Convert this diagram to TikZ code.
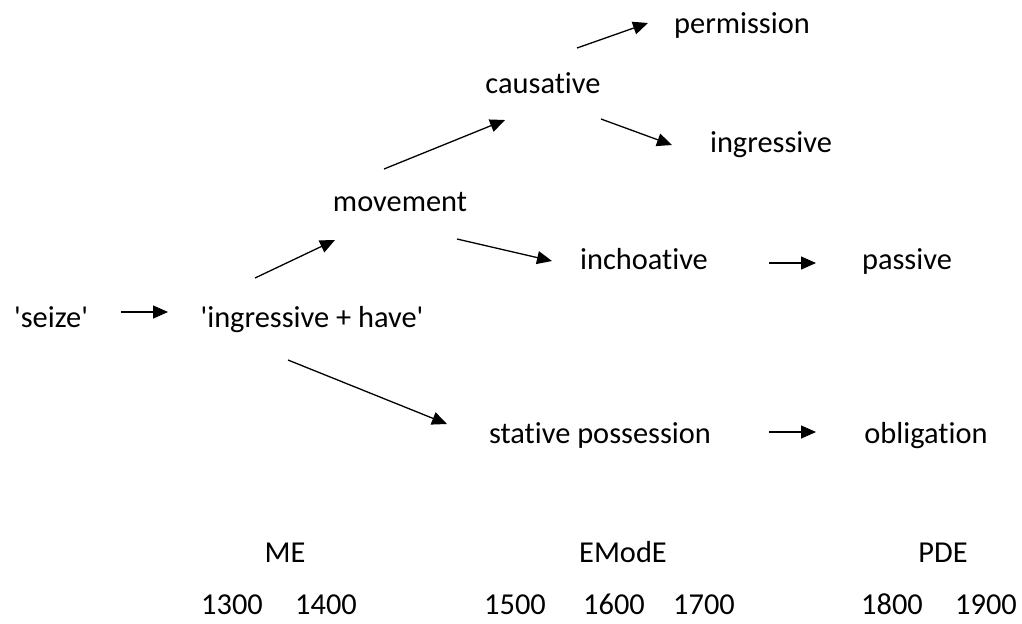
\documentclass[tikz,border=0pt]{standalone}
\usepackage{fontspec}
\setmainfont{Carlito}[Ligatures={TeXOff,CommonOff}]
\usepackage{tikz}
\usetikzlibrary{arrows.meta}
\tikzset{w/.style={font=\fontsize{15.2}{15.2}\selectfont, anchor=base, inner sep=0pt}}
\tikzset{ar/.style={line width=0.65pt, -{Triangle[length=7.5pt,width=6.5pt]}}}

\begin{document}
\begin{tikzpicture}[x=0.5pt,y=-0.5pt]
            \useasboundingbox (0,0) rectangle (1022,623);
            \node[w] (seize) at (51,327) {'seize'};
            \node[w] (inghave) at (312,327) {'ingressive + have'};
            \node[w] (move) at (400,211) {movement};
            \node[w] (caus) at (543,93) {causative};
            \node[w] (perm) at (742,33) {permission};
            \node[w] (ingr) at (771,152) {ingressive};
            \node[w] (inch) at (644,269) {inchoative};
            \node[w] (pass) at (907,269) {passive};
            \node[w] (stat) at (600,443) {stative possession};
            \node[w] (oblig) at (926,443) {obligation};
            \draw[ar] ([shift={(70,-15)}]seize.base) -- ([shift={(-144,-15)}]inghave.base);
            \draw[ar] ([shift={(-57,-49)}]inghave.base) -- ([shift={(-65,29)}]move.base);
            \draw[ar] ([shift={(-16,-42)}]move.base) -- ([shift={(-38,27)}]caus.base);
            \draw[ar] ([shift={(34,-45)}]caus.base) -- ([shift={(-94,-10)}]perm.base);
            \draw[ar] ([shift={(58,26)}]caus.base) -- ([shift={(-99,-7)}]ingr.base);
            \draw[ar] ([shift={(57,28)}]move.base) -- ([shift={(-92,-8)}]inch.base);
            \draw[ar] ([shift={(-24,33)}]inghave.base) -- ([shift={(-153,-19)}]stat.base);
            \draw[ar] ([shift={(125,-6)}]inch.base) -- ([shift={(-91,-6)}]pass.base);
            \draw[ar] ([shift={(169,-11)}]stat.base) -- ([shift={(-110,-11)}]oblig.base);
            % periods and dates
            \node[w] (me) at (285,562) {ME};
            \node[w] (emode) at (623,562) {EModE};
            \node[w] (pde) at (943,562) {PDE};
            \node[w] (y13) at (232,614) {1300};
            \node[w] (y14) at (326,614) {1400};
            \node[w] (y15) at (515,614) {1500};
            \node[w] (y16) at (614,614) {1600};
            \node[w] (y17) at (704,614) {1700};
            \node[w] (y18) at (892,614) {1800};
            \node[w] (y19) at (986,614) {1900};
          \end{tikzpicture}
\end{document}
